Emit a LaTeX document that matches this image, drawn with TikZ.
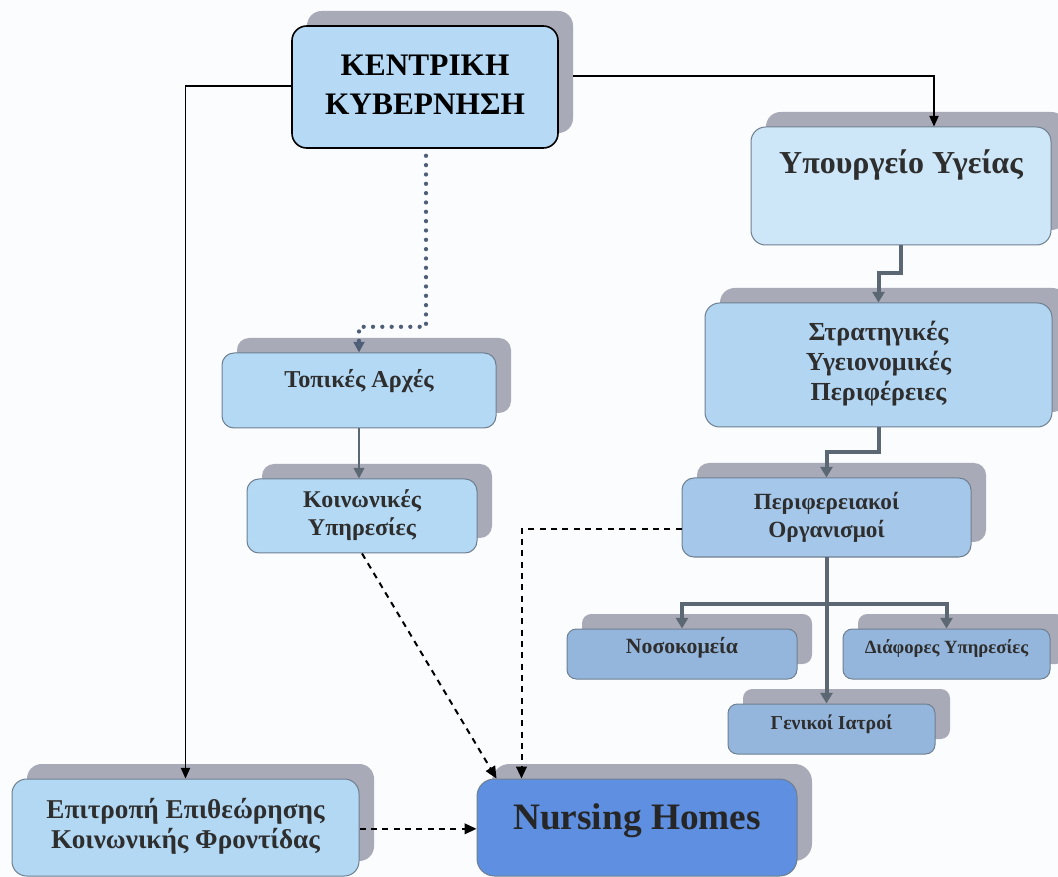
\documentclass[tikz,border=0pt]{standalone}
\usepackage{fontspec}
\setmainfont{Liberation Serif}
\usetikzlibrary{arrows.meta,shadows,calc}
\definecolor{bg}{HTML}{FBFCFD}
\definecolor{shgray}{HTML}{A9AAB7}
\definecolor{bord}{HTML}{6E7F90}
\definecolor{cKG}{HTML}{B6DAF5}
\definecolor{cYP}{HTML}{CDE7F8}
\definecolor{cSY}{HTML}{B2D5F2}
\definecolor{cPO}{HTML}{A5C7EA}
\definecolor{cTA}{HTML}{B4D9F5}
\definecolor{cSM}{HTML}{94B6DC}
\definecolor{cEP}{HTML}{B3D8F4}
\definecolor{cNH}{HTML}{5E8FE0}
\definecolor{lineg}{HTML}{5B6874}
\definecolor{dotc}{HTML}{4E5E76}
\definecolor{txt}{HTML}{2E2E2E}
\newcommand{\boxtxt}[2]{\raisebox{#1pt}{\begin{tabular}{@{}c@{}}#2\end{tabular}}}
\tikzset{
  front/.style={draw=bord, line width=0.75pt, rounded corners=9pt, inner sep=0pt, text=txt,
    drop shadow={shadow xshift=11.25pt, shadow yshift=11.25pt, fill=shgray, opacity=1}},
  sz/.style 2 args={minimum width=#1*0.75pt, minimum height=#2*0.75pt},
  blkline/.style={draw=black, line width=0.9pt, -{Triangle[length=8pt,width=7pt]}},
  thk/.style={draw=lineg, line width=3pt, -{Triangle[length=8pt,width=9pt]}},
  grayline/.style={draw=lineg, line width=1.5pt, -{Triangle[length=8pt,width=8pt]}},
  dotline/.style={draw=dotc, line width=3.2pt, line cap=round, dash pattern=on 0pt off 7pt, -{Triangle[length=8pt,width=8pt,fill=lineg]}},
  dsh/.style={draw=black, line width=1.5pt, dash pattern=on 4.5pt off 4pt, -{Triangle[length=9pt,width=8pt]}},
}
\begin{document}
\begin{tikzpicture}[x=0.75pt,y=-0.75pt]
\useasboundingbox (0,0) rectangle (1058,877);
\fill[bg] (0,0) rectangle (1058,877);

% boxes
\node[front, sz={266}{122}, fill=cKG, draw=black, line width=1.2pt, rounded corners=11pt, text=black] (kg) at (425,87)
  {\bfseries\fontsize{23.5}{29}\selectfont\boxtxt{22}{ΚΕΝΤΡΙΚΗ\\ΚΥΒΕΡΝΗΣΗ}};
\node[front, sz={300}{118}, fill=cYP, rounded corners=11pt] (yp) at (901,186)
  {\bfseries\fontsize{24}{28}\selectfont\boxtxt{38}{Υπουργείο Υγείας}};
\node[front, sz={347}{124}, fill=cSY, rounded corners=11pt] (sy) at (878.5,365)
  {\bfseries\fontsize{19.5}{22.5}\selectfont\boxtxt{0}{Στρατηγικές\\Υγειονομικές\\Περιφέρειες}};
\node[front, sz={289}{79}, fill=cPO] (po) at (826.5,517.5)
  {\bfseries\fontsize{17.4}{21}\selectfont\boxtxt{0}{Περιφερειακοί\\Οργανισμοί}};
\node[front, sz={230}{50}, fill=cSM, rounded corners=7pt] (nos) at (682,654)
  {\bfseries\fontsize{16.3}{19}\selectfont\boxtxt{13.2}{Νοσοκομεία}};
\node[front, sz={207}{50}, fill=cSM, rounded corners=7pt] (dia) at (946.5,654)
  {\bfseries\fontsize{14}{17}\selectfont\boxtxt{12.6}{Διάφορες Υπηρεσίες}};
\node[front, sz={207}{50}, fill=cSM, rounded corners=7pt] (gen) at (831.5,729)
  {\bfseries\fontsize{14.8}{19}\selectfont\boxtxt{13.2}{Γενικοί Ιατροί}};
\node[front, sz={274}{75}, fill=cTA] (ta) at (359,390.5)
  {\bfseries\fontsize{18.2}{22}\selectfont\boxtxt{20}{Τοπικές Αρχές}};
\node[front, sz={230}{74}, fill=cTA] (koi) at (362,516)
  {\bfseries\fontsize{18}{21}\selectfont\boxtxt{0}{Κοινωνικές\\Υπηρεσίες}};
\node[front, sz={347}{97}, fill=cEP, rounded corners=11pt] (ep) at (185.5,827.5)
  {\bfseries\fontsize{20.4}{22}\selectfont\boxtxt{14}{Επιτροπή Επιθεώρησης\\Κοινωνικής Φροντίδας}};
\node[front, sz={320}{97}, fill=cNH, rounded corners=13pt, text=black!85] (nh) at (637,827.5)
  {\bfseries\fontsize{28}{34}\selectfont\boxtxt{20.7}{Nursing Homes}};

% connectors
\draw[blkline] ([yshift=0.75pt]kg.west) -| (ep.north);
\draw[blkline] ($(kg.east)+(14,-11)$) -| ($(yp.north)+(33,0)$);
\draw[dotline] ($(kg.south)+(1,7)$) -- ++(0,171) -| (ta.north);
\draw[grayline] (ta.south) -- (ta.south |- koi.north);
\draw[thk] (yp.south) -- ++(0,28) -| (sy.north);
\draw[thk] (sy.south) -- ++(0,25) -| (po.north);
\coordinate (br) at ($(po.south)+(0,46)$);
\draw[thk] (br) -| (nos.north);
\draw[thk] (br) -| (dia.north);
\draw[thk] (po.south) -- (po.south |- gen.north);
\draw[dsh] ($(po.west)+(0,11.5)$) -| ($(nh.north west)+(45,0)$);
\draw[dsh] (koi.south) -- ($(nh.north west)+(20,0)$);
\draw[dsh] ([yshift=-1pt]ep.east) -- ([yshift=-1pt]ep.east -| nh.west);
\end{tikzpicture}
\end{document}
